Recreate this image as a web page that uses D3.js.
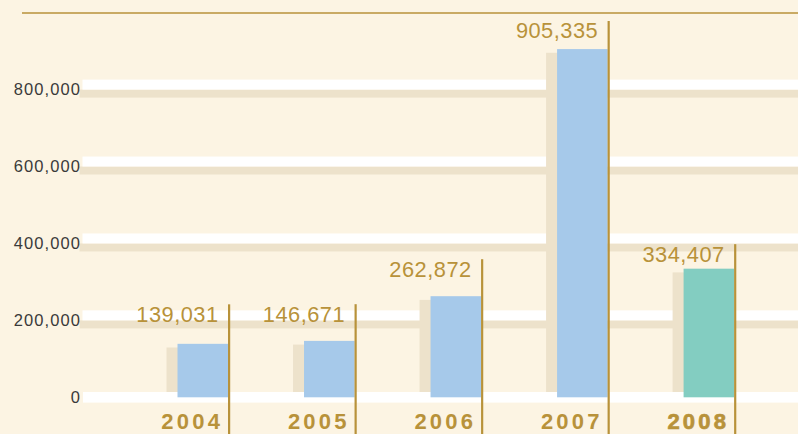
<!DOCTYPE html>
<html>
<head>
<meta charset="utf-8">
<script src="https://cdn.jsdelivr.net/npm/d3@7"></script>
<style>
  html, body { margin: 0; padding: 0; background: #fcf4e3; }
  svg { display: block; }
</style>
</head>
<body>
<script>
// ---- data ----
const years = ["2004", "2005", "2006", "2007", "2008"];
const values = [139031, 146671, 262872, 905335, 334407];
const tickValues = [0, 200000, 400000, 600000, 800000];
const highlightYear = "2008";

// ---- layout ----
const W = 798, H = 434;
const colors = {
  bg: "#fcf4e3",
  band: "#ffffff",
  shadow: "#ede2cb",
  bar: "#a6c9ea",
  highlight: "#83cdc1",
  gold: "#b8923a",
  axisText: "#3a3a3a"
};
// label lift above the bar top (px), per year
const labelLift = { "2004": 22, "2005": 19.2, "2006": 19.5, "2007": 10.7, "2008": 7 };

const svg = d3.select("body").append("svg")
  .attr("width", W).attr("height", H);

svg.append("rect").attr("width", W).attr("height", H).attr("fill", colors.bg);

const x = d3.scaleBand().domain(years).range([177.5, 734.2]).paddingInner(0.6).paddingOuter(0);
const y = d3.scaleLinear().domain([0, 800000]).range([397.3, 89.6]);

const data = years.map((yr, i) => ({ year: yr, value: values[i] }));

// top rule
svg.append("line")
  .attr("x1", 22).attr("x2", W).attr("y1", 13).attr("y2", 13)
  .attr("stroke", colors.gold).attr("stroke-width", 1.6);

// grid bands
const grid = svg.append("g");
tickValues.filter(v => v > 0).forEach(v => {
  grid.append("rect").attr("x", 79.5).attr("y", y(v)).attr("width", W - 79.5).attr("height", 8)
    .attr("fill", colors.shadow);
  grid.append("rect").attr("x", 82.5).attr("y", y(v) - 10).attr("width", W - 82.5).attr("height", 10)
    .attr("fill", colors.band);
});
grid.append("rect").attr("x", 83).attr("y", y(0) - 5.3).attr("width", W - 83).attr("height", 10.6)
  .attr("fill", colors.band);

// y axis labels
const yAxis = d3.axisLeft(y).tickValues(tickValues).tickFormat(d3.format(",")).tickSize(0).tickPadding(0);
const yg = svg.append("g").attr("transform", "translate(80,0)").call(yAxis);
yg.select(".domain").remove();
yg.selectAll("text")
  .attr("fill", colors.axisText)
  .attr("font-family", "'Liberation Sans', Arial, sans-serif")
  .attr("font-size", 16.5)
  .attr("letter-spacing", "1.1px")
  .attr("dy", "0.32em")
  .attr("dx", 1);

// shadow bars
svg.append("g").selectAll("rect").data(data).join("rect")
  .attr("x", d => x(d.year) - 11)
  .attr("y", d => y(d.value) + 3.7)
  .attr("width", x.bandwidth())
  .attr("height", d => (y(0) - 5.3) - (y(d.value) + 3.7))
  .attr("fill", colors.shadow);

// bars
svg.append("g").selectAll("rect").data(data).join("rect")
  .attr("x", d => x(d.year))
  .attr("y", d => y(d.value))
  .attr("width", x.bandwidth())
  .attr("height", d => y(0) - y(d.value))
  .attr("fill", d => d.year === highlightYear ? colors.highlight : colors.bar);

// vertical gold rules
svg.append("g").selectAll("line").data(data).join("line")
  .attr("x1", d => x(d.year) + x.bandwidth() + 1)
  .attr("x2", d => x(d.year) + x.bandwidth() + 1)
  .attr("y1", d => {
    const top = y(d.value) - labelLift[d.year] - 17.5;
    return Math.max(top, 13);
  })
  .attr("y2", H)
  .attr("stroke", colors.gold).attr("stroke-width", 2.2);

// value labels
svg.append("g").selectAll("text").data(data).join("text")
  .attr("x", d => x(d.year) + x.bandwidth() - 9.5)
  .attr("y", d => y(d.value) - labelLift[d.year])
  .attr("text-anchor", "end")
  .attr("fill", colors.gold)
  .attr("font-family", "'Liberation Sans', Arial, sans-serif")
  .attr("font-size", 21.8)
  .attr("letter-spacing", "0.5px")
  .text(d => d3.format(",")(d.value));

// year labels
const xAxis = d3.axisBottom(x).tickSize(0).tickPadding(0);
const xg = svg.append("g").call(xAxis);
xg.select(".domain").remove();
xg.selectAll(".tick").attr("transform", null);
xg.selectAll("text")
  .attr("x", d => x(d) + x.bandwidth() - 5)
  .attr("y", 429.3)
  .attr("dy", 0)
  .attr("text-anchor", "end")
  .attr("fill", colors.gold)
  .attr("font-family", "'Liberation Sans', Arial, sans-serif")
  .attr("font-size", 22)
  .attr("font-weight", "bold")
  .attr("letter-spacing", "3.2px")
  .attr("stroke", d => d === highlightYear ? colors.gold : "none")
  .attr("stroke-width", d => d === highlightYear ? 0.7 : 0);
</script>
</body>
</html>
